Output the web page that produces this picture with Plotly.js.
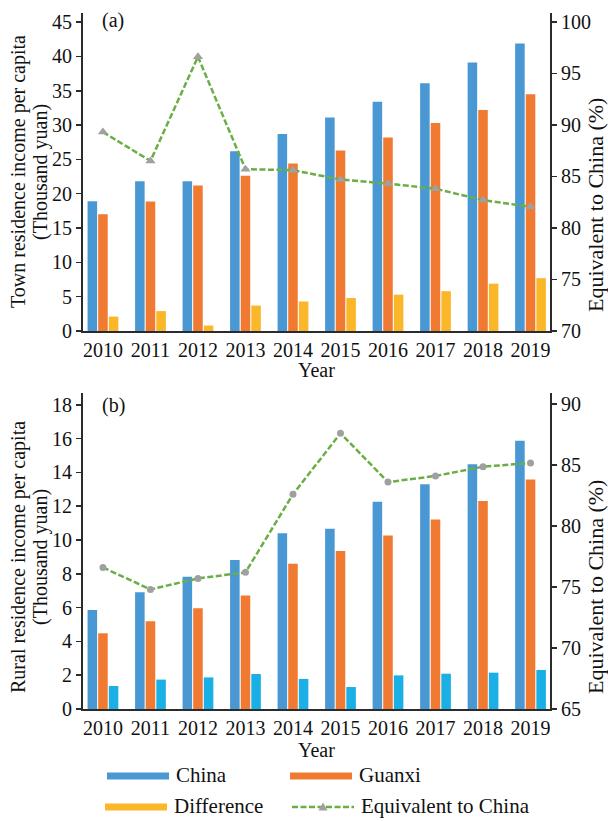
<!DOCTYPE html>
<html>
<head>
<meta charset="utf-8">
<script src="https://cdn.plot.ly/plotly-3.0.1.min.js"></script>
<style>html,body{margin:0;padding:0;background:#fff;}#chart{width:608px;height:821px;}</style>
</head>
<body>
<div id="chart"></div>
<script>
// ---- data ----
const years = ['2010','2011','2012','2013','2014','2015','2016','2017','2018','2019'];
const townChina   = [18.9, 21.8, 21.8, 26.2, 28.7, 31.1, 33.4, 36.1, 39.1, 41.9];
const townGuanxi  = [17.0, 18.85, 21.2, 22.6, 24.4, 26.3, 28.2, 30.3, 32.2, 34.5];
const townDiff    = [2.1, 2.9, 0.8, 3.7, 4.3, 4.8, 5.3, 5.8, 6.9, 7.7];
const townEquiv   = [89.3, 86.5, 96.6, 85.7, 85.6, 84.7, 84.3, 83.8, 82.7, 82.05];
const ruralChina  = [5.86, 6.91, 7.83, 8.82, 10.4, 10.66, 12.26, 13.3, 14.49, 15.87];
const ruralGuanxi = [4.48, 5.19, 5.96, 6.71, 8.6, 9.35, 10.26, 11.21, 12.31, 13.58];
const ruralDiff   = [1.36, 1.74, 1.87, 2.07, 1.78, 1.30, 1.99, 2.09, 2.15, 2.31];
const ruralEquiv  = [76.6, 74.8, 75.7, 76.2, 82.6, 87.6, 83.6, 84.1, 84.86, 85.16];
const seriesNames = ['China', 'Guanxi', 'Difference', 'Equivalent to China'];

// ---- styles ----
const W = 608, H = 821;
const px = v => v / W, py = v => 1 - v / H;
const C_CHINA = '#4a98d3', C_GX = '#f07a32', C_DIFF = '#fbb72a', C_DIFF_B = '#1ab0e6';
const C_LINE = '#6aae45', C_MARK = '#a0a0a0';
const FONT = 'Liberation Serif, Times New Roman, serif';
const AX = '#2b2b2b';

function bar(x, y, name, color, xa, ya) {
  return {type: 'bar', x: x, y: y, name: name, xaxis: xa, yaxis: ya,
          marker: {color: color}, showlegend: false, hoverinfo: 'x+y'};
}
function line(x, y, name, xa, ya, sym, size) {
  return {type: 'scatter', mode: 'lines+markers', x: x, y: y, name: name,
          xaxis: xa, yaxis: ya, showlegend: false,
          line: {color: C_LINE, width: 2.5, dash: '6px,2.5px'},
          marker: {symbol: sym, color: C_MARK, size: size}};
}

const traces = [
  bar(years, townChina, seriesNames[0], C_CHINA, 'x', 'y'),
  bar(years, townGuanxi, seriesNames[1], C_GX, 'x', 'y'),
  bar(years, townDiff, seriesNames[2], C_DIFF, 'x', 'y'),
  line(years, townEquiv, seriesNames[3], 'x', 'y2', 'triangle-up', 9),
  bar(years, ruralChina, seriesNames[0], C_CHINA, 'x2', 'y3'),
  bar(years, ruralGuanxi, seriesNames[1], C_GX, 'x2', 'y3'),
  bar(years, ruralDiff, seriesNames[2], C_DIFF_B, 'x2', 'y3'),
  line(years, ruralEquiv, seriesNames[3], 'x2', 'y4', 'circle', 7)
];

const tickFont = {family: FONT, size: 20, color: '#111'};
function xax(anchor) {
  return {type: 'category', domain: [px(83), px(550)], anchor: anchor,
          range: [-0.42, 9.41], showline: true, linecolor: AX, linewidth: 2,
          ticks: '', tickfont: tickFont, ticklabelstandoff: 0, showgrid: false,
          zeroline: false, fixedrange: true};
}
function yax(dom, range, dtick, anchor, side, overlay) {
  const a = {domain: dom, range: range, dtick: dtick, tick0: range[0], anchor: anchor,
             side: side, showline: true, linecolor: AX, linewidth: 2,
             ticks: 'outside', ticklen: 5, tickwidth: 1.5, tickcolor: AX,
             tickfont: tickFont, showgrid: false, zeroline: false, fixedrange: true};
  if (overlay) a.overlaying = overlay;
  return a;
}
const domA = [py(331), py(12.5)];
const domB = [py(709), py(393)];

const titleFont = {family: FONT, size: 20, color: '#111'};
const rightFont = {family: FONT, size: 22, color: '#111'};
const labelFont = {family: FONT, size: 20, color: '#111'};
function rot(text, x, y, font) {
  return {text: text, x: px(x), y: py(y), xref: 'paper', yref: 'paper', textangle: -90,
          showarrow: false, font: font, xanchor: 'center', yanchor: 'middle'};
}
function txt(text, x, y, font, xanchor) {
  return {text: text, x: px(x), y: py(y), xref: 'paper', yref: 'paper', showarrow: false,
          font: font, xanchor: xanchor || 'center', yanchor: 'middle'};
}
const annotations = [
  rot('Town residence income per capita', 18, 172, titleFont),
  rot('(Thousand yuan)', 40, 172, titleFont),
  rot('Rural residence income per capita', 18, 557, titleFont),
  rot('(Thousand yuan)', 40, 557, titleFont),
  rot('Equivalent to China (%)', 595, 205, rightFont),
  rot('Equivalent to China (%)', 595, 587, rightFont),
  txt('Year', 316, 370, labelFont),
  txt('Year', 316, 750, labelFont),
  txt('(a)', 100, 20, labelFont, 'left'),
  txt('(b)', 100, 405, labelFont, 'left')
];

// ---- custom legend (swatches + labels) ----
const legendItems = [
  {name: seriesNames[0], kind: 'bar', color: C_CHINA, x0: 107, yc: 776},
  {name: seriesNames[1], kind: 'bar', color: C_GX, x0: 290, yc: 776},
  {name: seriesNames[2], kind: 'bar', color: C_DIFF, x0: 105, yc: 807},
  {name: seriesNames[3], kind: 'line', color: C_LINE, x0: 292, yc: 807}
];
const shapes = [];
legendItems.forEach(it => {
  const x1 = it.x0 + 62;
  if (it.kind === 'bar') {
    shapes.push({type: 'rect', xref: 'paper', yref: 'paper', x0: px(it.x0), x1: px(x1),
                 y0: py(it.yc + 3.5), y1: py(it.yc - 3.5), fillcolor: it.color, line: {width: 0}});
  } else {
    shapes.push({type: 'line', xref: 'paper', yref: 'paper', x0: px(it.x0), x1: px(x1),
                 y0: py(it.yc), y1: py(it.yc), line: {color: it.color, width: 2.5, dash: '6px,2.5px'}});
    const cx = (it.x0 + x1) / 2;
    shapes.push({type: 'path', xref: 'paper', yref: 'paper',
                 path: `M ${px(cx - 4.5)} ${py(it.yc + 3.5)} L ${px(cx + 4.5)} ${py(it.yc + 3.5)} L ${px(cx)} ${py(it.yc - 4.5)} Z`,
                 fillcolor: C_MARK, line: {width: 0}});
  }
  annotations.push(txt(it.name, x1 + 5, it.yc - 1, {family: FONT, size: 21, color: '#111'}, 'left'));
});

const layout = {
  width: W, height: H, margin: {l: 0, r: 0, t: 0, b: 0},
  paper_bgcolor: '#fff', plot_bgcolor: 'rgba(0,0,0,0)',
  barmode: 'group', bargap: 0.33, bargroupgap: 0.1,
  showlegend: false, font: {family: FONT},
  xaxis: xax('y'),
  xaxis2: xax('y3'),
  yaxis: yax(domA, [0, 46.4], 5, 'x', 'left'),
  yaxis2: yax(domA, [70, 100.9], 5, 'x', 'right', 'y'),
  yaxis3: yax(domB, [0, 18.7], 2, 'x2', 'left'),
  yaxis4: yax(domB, [65, 90.9], 5, 'x2', 'right', 'y3'),
  annotations: annotations,
  shapes: shapes
};

Plotly.newPlot('chart', traces, layout, {displayModeBar: false, staticPlot: true});
</script>
</body>
</html>
